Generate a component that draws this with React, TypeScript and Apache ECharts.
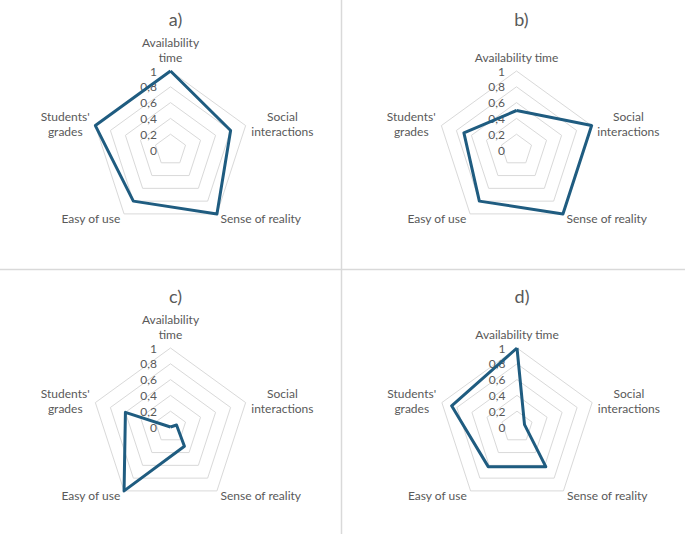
import React, { useEffect, useRef } from "react";
import * as echarts from "echarts";

// Category order as read in the reference (clockwise from top)
const categories = [
  "Availability time",
  "Social interactions",
  "Sense of reality",
  "Easy of use",
  "Students' grades",
];
// Displayed names (line breaks as in the reference)
const namesWrapped = ["Availability\ntime", "Social\ninteractions", "Sense of reality", "Easy of use", "Students'\ngrades"];
const namesWide = ["Availability time", "Social\ninteractions", "Sense of reality", "Easy of use", "Students'\ngrades"];

const seriesA = [1, 0.8, 1, 0.8, 1];
const seriesB = [0.5, 1, 1, 0.8, 0.7];
const seriesC = [0, 0.08, 0.3, 1, 0.6];
const seriesD = [1, 0.1, 0.62, 0.62, 0.87];

const panelTitles = ["a)", "b)", "c)", "d)"];
const panelValues = [seriesA, seriesB, seriesC, seriesD];
const panelNames = [namesWrapped, namesWide, namesWrapped, namesWide];

const axisMin = 0;
const axisMax = 1;
const axisStep = 0.2;

// layout
const centers: [number, number][] = [
  [170.5, 150],
  [516.5, 150],
  [170.5, 427],
  [517, 427],
];
const labelOffsets = [9.5, 7.5, 9.5, 7.5];
const titleTops = [5, 5, 282, 282];
const R = 79;

const GRAY = "#595959";
const LINE = "#1f5c80";
const FONT = "Lato";

// ECharts radar places indicators counter-clockwise; reference is clockwise.
const order = [0, 4, 3, 2, 1];

export default function App() {
  const ref = useRef<HTMLDivElement>(null);
  useEffect(() => {
    if (!ref.current) return;
    const chart = echarts.init(ref.current, undefined, { renderer: "svg" });

    const radars = centers.map((c, p) => {
      const names = panelNames[p];
      return {
        center: c,
        radius: R,
        startAngle: 90,
        splitNumber: 5,
        shape: "polygon",
        nameGap: 6,
        indicator: order.map((i) => ({ name: names[i], min: axisMin, max: axisMax })),
        axisName: {
          color: GRAY,
          fontSize: 12,
          fontFamily: FONT,
          formatter: (name: string) =>
            name
              .split("\n")
              .map((l) => `{c|${l}}`)
              .join("\n"),
          rich: {
            c: { align: "center", fontSize: 12, lineHeight: 15, color: GRAY, fontFamily: FONT },
          },
        },
        splitLine: { lineStyle: { color: "#d9d9d9", width: 1 } },
        splitArea: { show: false },
        axisLine: { show: false },
        axisTick: { show: false },
        axisLabel: { show: false },
      };
    });

    const grids = centers.map((c, p) => ({
      left: c[0] - labelOffsets[p],
      top: c[1] - R,
      width: 1,
      height: R,
    }));

    const yAxes = centers.map((_, p) => ({
      gridIndex: p,
      type: "value",
      min: axisMin,
      max: axisMax,
      interval: axisStep,
      axisLine: { show: false },
      axisTick: { show: false },
      splitLine: { show: false },
      axisLabel: {
        color: GRAY,
        fontSize: 12,
        lineHeight: 10,
        fontFamily: FONT,
        margin: 4,
        formatter: (v: number) => String(Number(v.toFixed(1))).replace(".", ","),
      },
    }));
    const xAxes = centers.map((_, p) => ({ gridIndex: p, type: "value", show: false }));

    const series = panelValues.map((vals, p) => ({
      type: "radar",
      radarIndex: p,
      symbol: "none",
      lineStyle: { color: LINE, width: 3 },
      itemStyle: { color: LINE },
      data: [{ value: order.map((i) => vals[i]), name: panelTitles[p] }],
      z: 3,
    }));

    chart.setOption({
      animation: false,
      backgroundColor: "#ffffff",
      title: panelTitles.map((t, p) => ({
        text: t,
        left: centers[p][0],
        top: titleTops[p],
        textAlign: "center",
        textStyle: { fontSize: 18, fontWeight: "normal", color: GRAY, fontFamily: FONT },
      })),
      radar: radars,
      grid: grids,
      xAxis: xAxes,
      yAxis: yAxes,
      series,
      graphic: [
        {
          type: "line",
          shape: { x1: 341.5, y1: 0, x2: 341.5, y2: 534 },
          style: { stroke: "#d9d9d9", lineWidth: 1.5 },
          silent: true,
        },
        {
          type: "line",
          shape: { x1: 0, y1: 269.5, x2: 685, y2: 269.5 },
          style: { stroke: "#d9d9d9", lineWidth: 1.5 },
          silent: true,
        },
      ],
    });
    return () => chart.dispose();
  }, []);
  return (
    <div
      ref={ref}
      style={{ position: "absolute", left: 0, top: 0, width: 685, height: 534 }}
    />
  );
}
